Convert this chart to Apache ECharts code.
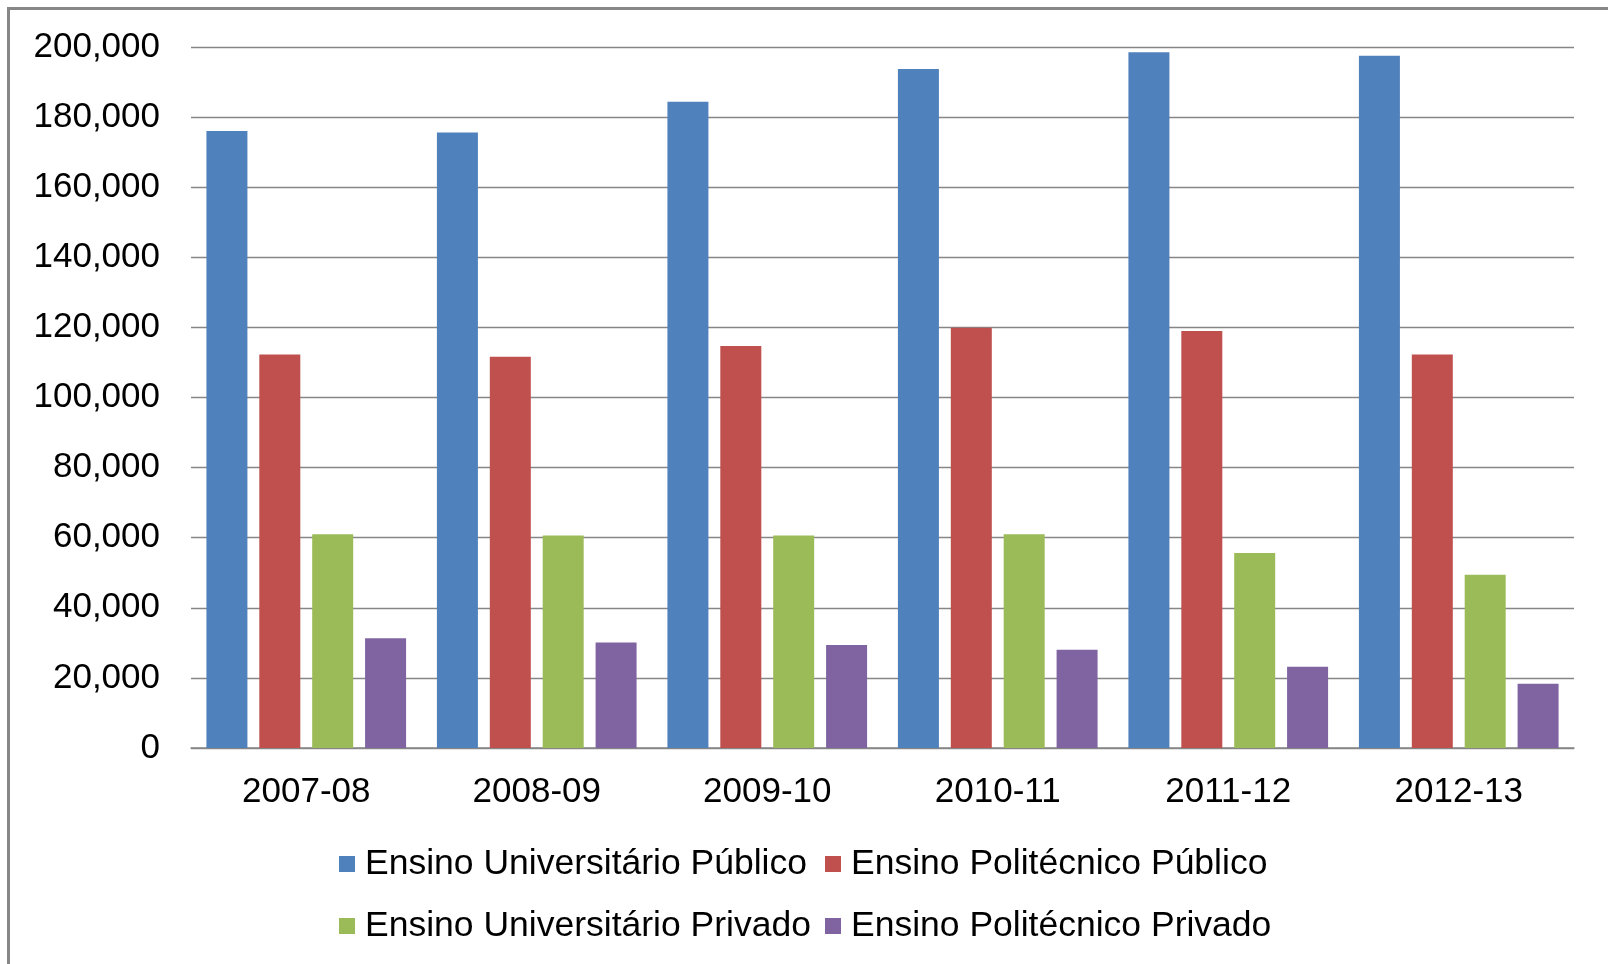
<!DOCTYPE html>
<html>
<head>
<meta charset="utf-8">
<script src="https://cdn.jsdelivr.net/npm/echarts@6/dist/echarts.min.js"></script>
<style>
  html, body { margin: 0; padding: 0; background: #ffffff; }
  #wrap { position: relative; width: 1608px; height: 964px; overflow: hidden; }
  #chart { position: absolute; left: 0; top: 0; width: 1608px; height: 964px; }
  #frame { position: absolute; left: 7px; top: 7px; width: 1610px; height: 970px;
           border-left: 3px solid #878787; border-top: 3px solid #878787; pointer-events: none; }
</style>
</head>
<body>
<div id="wrap"><div id="chart"></div><div id="frame"></div></div>
<script>
const categories = ['2007-08', '2008-09', '2009-10', '2010-11', '2011-12', '2012-13'];
const seriesNames = ['Ensino Universitário Público', 'Ensino Politécnico Público',
                     'Ensino Universitário Privado', 'Ensino Politécnico Privado'];
const univPublico = [176000, 175600, 184400, 193700, 198500, 197500];
const poliPublico = [112300, 111600, 114700, 119900, 119000, 112300];
const univPrivado = [61000, 60600, 60600, 61000, 55600, 49400];
const poliPrivado = [31300, 30100, 29400, 28000, 23200, 18300];
const yTicks = { min: 0, max: 200000, interval: 20000 };
const colors = ['#4F81BD', '#C0504D', '#9BBB59', '#8064A2'];

const font = '"Liberation Sans", Arial, sans-serif';
const values = [univPublico, poliPublico, univPrivado, poliPrivado];

const legendPos = [[339, 844], [825, 844], [339, 906], [825, 906]];
const legends = seriesNames.map((n, i) => ({
  data: [n], left: legendPos[i][0], top: legendPos[i][1], padding: 0,
  icon: 'rect', itemWidth: 16, itemHeight: 16, itemGap: 0,
  textStyle: { fontFamily: font, fontSize: 35.5, color: '#000', lineHeight: 40, padding: [0, 0, 0, 5] }
}));

const chart = echarts.init(document.getElementById('chart'), null, { renderer: 'canvas' });
chart.setOption({
  backgroundColor: '#ffffff',
  animation: false,
  color: colors,
  legend: legends,
  grid: { left: 191, right: 34, top: 47, bottom: 216, containLabel: false },
  xAxis: {
    type: 'category', data: categories,
    axisLine: { lineStyle: { color: '#868686', width: 1.5 } },
    axisTick: { show: false },
    axisLabel: { fontFamily: font, fontSize: 35, color: '#000', margin: 27 }
  },
  yAxis: {
    type: 'value', min: yTicks.min, max: yTicks.max, interval: yTicks.interval,
    axisLine: { show: false }, axisTick: { show: false },
    splitLine: { lineStyle: { color: '#868686', width: 1.3 } },
    axisLabel: { fontFamily: font, fontSize: 35, color: '#000', margin: 31,
                 formatter: v => v.toLocaleString('en-US') }
  },
  series: seriesNames.map((n, i) => ({
    name: n, type: 'bar', data: values[i], barWidth: 41, barGap: '29%',
    itemStyle: { color: colors[i] }
  }))
});
</script>
</body>
</html>
